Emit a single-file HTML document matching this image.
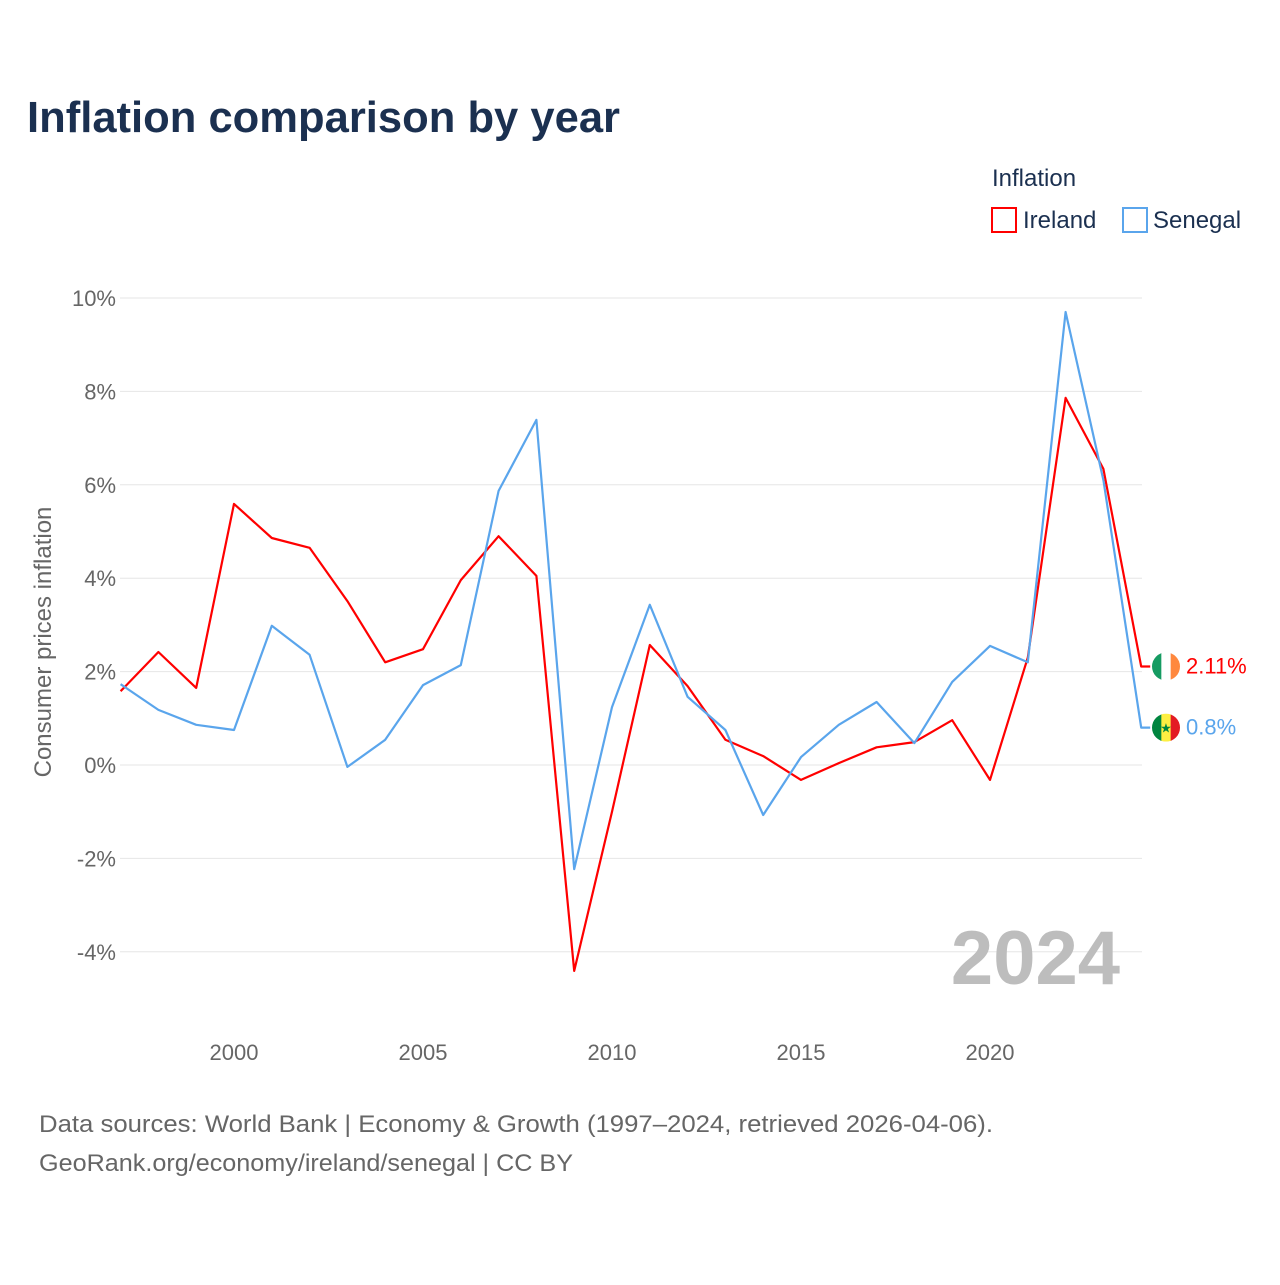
<!DOCTYPE html>
<html><head><meta charset="utf-8"><style>
body{margin:0;background:#fff;font-family:"Liberation Sans",sans-serif}
svg text{font-family:"Liberation Sans",sans-serif}
</style></head><body>
<svg id="chart" width="1280" height="1280" viewBox="0 0 1280 1280" xmlns="http://www.w3.org/2000/svg">
<rect width="1280" height="1280" fill="#fff"/>
<text x="27" y="132" font-size="44" font-weight="bold" fill="#1b3050" textLength="593" lengthAdjust="spacingAndGlyphs">Inflation comparison by year</text>
<text x="992" y="186" font-size="24" fill="#1b3050">Inflation</text>
<g><rect x="992" y="208" width="24" height="24" fill="none" stroke="#f00" stroke-width="2"/><text x="1023" y="228" font-size="24" fill="#1b3050">Ireland</text></g>
<g><rect x="1123" y="208" width="24" height="24" fill="none" stroke="#5aa5ec" stroke-width="2"/><text x="1153" y="228" font-size="24" fill="#1b3050">Senegal</text></g>
<text transform="translate(51,642) rotate(-90)" text-anchor="middle" font-size="24" fill="#666">Consumer prices inflation</text>
<g id="grid"></g><g id="xt"></g>
<text x="1120" y="984" text-anchor="end" font-size="76" font-weight="bold" fill="#bdbdbd">2024</text>
<g id="lines"></g>
<text x="39" y="1132" font-size="24" fill="#666" textLength="954" lengthAdjust="spacingAndGlyphs">Data sources: World Bank | Economy &amp; Growth (1997–2024, retrieved 2026-04-06).</text>
<text x="39" y="1171" font-size="24" fill="#666" textLength="534" lengthAdjust="spacingAndGlyphs">GeoRank.org/economy/ireland/senegal | CC BY</text>
</svg>
<script>
const years=[1997,1998,1999,2000,2001,2002,2003,2004,2005,2006,2007,2008,2009,2010,2011,2012,2013,2014,2015,2016,2017,2018,2019,2020,2021,2022,2023,2024];
const ireland=[1.58,2.42,1.65,5.59,4.86,4.65,3.51,2.2,2.48,3.96,4.9,4.05,-4.41,-1.0,2.57,1.69,0.54,0.19,-0.32,0.04,0.38,0.49,0.96,-0.32,2.3,7.86,6.34,2.11];
const senegal=[1.73,1.18,0.86,0.75,2.98,2.36,-0.04,0.54,1.71,2.14,5.87,7.39,-2.23,1.24,3.43,1.46,0.75,-1.07,0.17,0.86,1.35,0.47,1.78,2.55,2.2,9.7,6.1,0.8];
const yTicks=[-4,-2,0,2,4,6,8,10];
const xTicks=[2000,2005,2010,2015,2020];
const NS="http://www.w3.org/2000/svg";
const X=y=>120.6+(y-1997)*37.8, Y=v=>765-v*46.7;
function mk(t,a,p){const e=document.createElementNS(NS,t);for(const k in a)e.setAttribute(k,a[k]);p.appendChild(e);return e;}
const g=document.getElementById('grid');
yTicks.forEach(v=>{
 const l=mk('line',{x1:120,x2:1142,y1:Y(v),y2:Y(v),stroke:'#e6e6e6','stroke-width':1},g);
 
 
 const t=mk('text',{x:116,y:Y(v)+8,'text-anchor':'end','font-size':22,fill:'#666'},g);
 
 
 t.textContent=v+'%';
});
const xt=document.getElementById('xt');
xTicks.forEach(v=>{
 const t=mk('text',{x:X(v),y:1060,'text-anchor':'middle','font-size':22,fill:'#666'},xt);
 
 
 t.textContent=v;
});
const L=document.getElementById('lines');
function series(vals,color,name){
 let d=vals.map((v,i)=>(i?'L':'M')+X(years[i]).toFixed(1)+','+Y(v).toFixed(1)).join(' ');
 d+=' L'+(X(2024)+9)+','+Y(vals[vals.length-1]).toFixed(1);
 const p=mk('path',{d:d,fill:'none',stroke:color,'stroke-width':2.2,'stroke-linejoin':'round'},L);
 
 
 const yy=Y(vals[vals.length-1]);
 const t=mk('text',{x:1186,y:yy+7,'font-size':22,fill:color},L);
 
 
 t.textContent=vals[vals.length-1]+'%';
 return yy;
}
const yi=series(ireland,'#f00','ireland');
const ys=series(senegal,'#5aa5ec','senegal');
function flag(cy,cols,name,star){
 const gg=mk('g',{},L);
 
 
 const cp=mk('clipPath',{id:'c'+name},gg);mk('circle',{cx:1166,cy:cy,r:14},cp);
 cols.forEach((c,i)=>mk('rect',{x:1152+i*28/3,y:cy-14,width:28/3+0.5,height:28,fill:c,'clip-path':'url(#c'+name+')'},gg));
 if(star)mk('text',{x:1166,y:cy+5,'text-anchor':'middle','font-size':13,fill:'#00853f'},gg).textContent='★';
}
flag(yi,['#169b62','#fff','#ff883e'],'ireland',false);
flag(ys,['#00853f','#fdef42','#e31b23'],'senegal',true);
</script>
</body></html>
